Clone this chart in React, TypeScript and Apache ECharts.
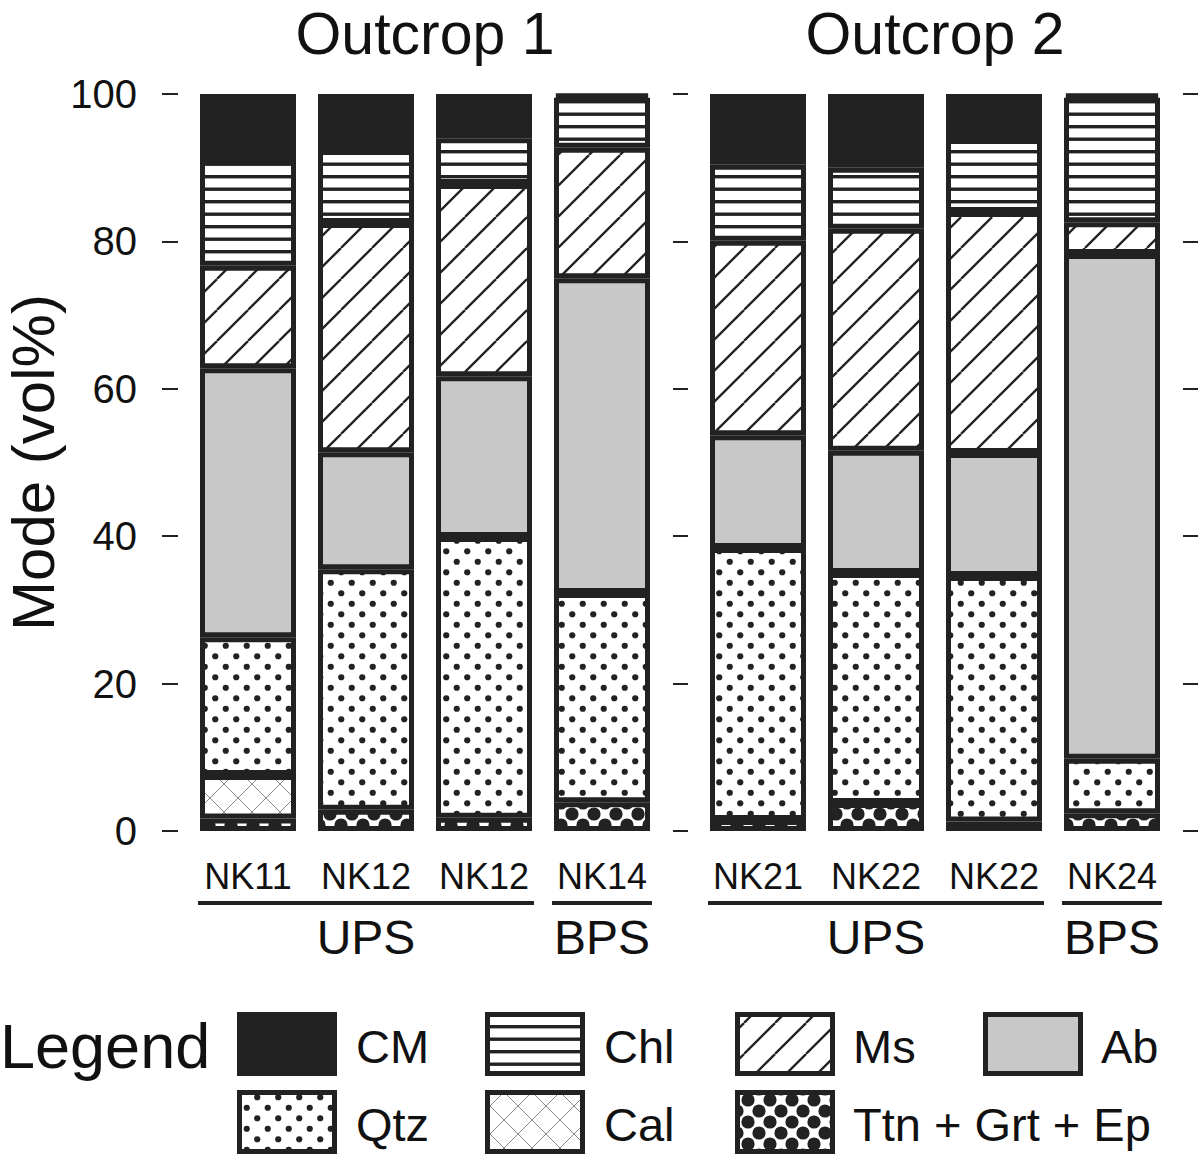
import React, { useEffect, useRef } from 'react';
import * as echarts from 'echarts';

// ---------- data ----------
const panelTitles = ['Outcrop 1', 'Outcrop 2'];
const categories1 = ['NK11', 'NK12', 'NK12', 'NK14'];
const categories2 = ['NK21', 'NK22', 'NK22', 'NK24'];
const groupNames = ['UPS', 'BPS'];
const groupStart = [0, 3];
const groupEnd = [2, 3];
const yTicks = [0, 20, 40, 60, 80, 100];

// mineral modes (vol%), bottom of stack first
const ttn1 = [1.7, 2.9, 1.8, 3.9];
const ttn2 = [1.5, 3.8, 1.3, 2.4];
const cal1 = [5.9, 0, 0, 0];
const cal2 = [0, 0, 0, 0];
const qtz1 = [18.7, 32.6, 38.1, 28.4];
const qtz2 = [36.9, 31.2, 33.3, 7.4];
const ab1 = [36.5, 15.9, 21.8, 42.7];
const ab2 = [15.3, 16.6, 16.7, 68.5];
const ms1 = [13.9, 31.1, 26.1, 17.7];
const ms2 = [26.4, 30.1, 32.7, 4.3];
const chl1 = [14.6, 9.9, 6.2, 6.8];
const chl2 = [10.3, 8.3, 9.9, 16.9];
const cm1 = [8.7, 7.6, 6.0, 0.5];
const cm2 = [9.6, 10.0, 6.1, 0.5];

const mineralNames = ['Ttn + Grt + Ep', 'Cal', 'Qtz', 'Ab', 'Ms', 'Chl', 'CM'];
const mineralKeys = ['ttn', 'cal', 'qtz', 'ab', 'ms', 'chl', 'cm'];
const outcrop1 = [ttn1, cal1, qtz1, ab1, ms1, chl1, cm1];
const outcrop2 = [ttn2, cal2, qtz2, ab2, ms2, chl2, cm2];
const legendRow1 = ['CM', 'Chl', 'Ms', 'Ab'];
const legendRow2 = ['Qtz', 'Cal', 'Ttn + Grt + Ep'];

// ---------- style ----------
const INK = '#222222';
const FONT = '"Liberation Sans", Arial, Helvetica, sans-serif';

function tile(w: number, h: number, draw: (ctx: CanvasRenderingContext2D) => void) {
  const c = document.createElement('canvas');
  c.width = w;
  c.height = h;
  const ctx = c.getContext('2d')!;
  ctx.fillStyle = '#ffffff';
  ctx.fillRect(0, 0, w, h);
  ctx.fillStyle = INK;
  ctx.strokeStyle = INK;
  draw(ctx);
  return { image: c.toDataURL(), repeat: 'repeat', imageWidth: w, imageHeight: h };
}

function buildFills(): Record<string, any> {
  const circle = (ctx: CanvasRenderingContext2D, x: number, y: number, r: number) => {
    ctx.beginPath();
    ctx.arc(x, y, r, 0, Math.PI * 2);
    ctx.fill();
  };
  return {
    cm: INK,
    ab: '#c8c8c8',
    chl: tile(10, 25, (ctx) => {
      ctx.fillRect(0, 0, 10, 3.4);
      ctx.fillRect(0, 12.5, 10, 3.4);
    }),
    ms: tile(31, 31, (ctx) => {
      ctx.lineWidth = 2.3;
      [-31, 0, 31].forEach((k) => {
        ctx.beginPath();
        ctx.moveTo(k, 31);
        ctx.lineTo(k + 31, 0);
        ctx.stroke();
      });
    }),
    qtz: tile(21, 21, (ctx) => {
      circle(ctx, 5.25, 5.25, 3.1);
      circle(ctx, 15.75, 15.75, 3.1);
    }),
    cal: tile(28, 28, (ctx) => {
      ctx.strokeStyle = '#8a8a8a';
      ctx.lineWidth = 1;
      [-28, 0, 28].forEach((k) => {
        ctx.beginPath();
        ctx.moveTo(k, 28);
        ctx.lineTo(k + 28, 0);
        ctx.stroke();
        ctx.beginPath();
        ctx.moveTo(k, 0);
        ctx.lineTo(k + 28, 28);
        ctx.stroke();
      });
    }),
    ttn: tile(22, 22, (ctx) => {
      [[0, 0], [22, 0], [0, 22], [22, 22], [11, 11]].forEach(([x, y]) => circle(ctx, x, y, 6.6));
    }),
  };
}

export default function App() {
  const ref = useRef<HTMLDivElement>(null);

  useEffect(() => {
    document.body.style.margin = '0';
    const chart = echarts.init(ref.current!, null, { renderer: 'svg' });
    const fills = buildFills();
    const grids = [
      { left: 189, top: 94, width: 472, height: 737, containLabel: false, outerBoundsMode: 'none' },
      { left: 699, top: 94, width: 472, height: 737, containLabel: false, outerBoundsMode: 'none' },
    ];
    const cats = [categories1, categories2];
    const datasets = [outcrop1, outcrop2];

    const xAxis = cats.map((c, g) => ({
      type: 'category',
      gridIndex: g,
      data: c,
      axisLine: { show: false },
      axisTick: { show: false },
      axisLabel: { fontSize: 36, fontFamily: FONT, color: '#111', margin: 27, interval: 0 },
    }));

    const yBase = {
      type: 'value',
      min: yTicks[0],
      max: yTicks[yTicks.length - 1],
      interval: yTicks[1] - yTicks[0],
      splitLine: { show: false },
      axisLine: { show: false },
    };
    const yAxis = [
      {
        ...yBase,
        gridIndex: 0,
        position: 'left',
        offset: 11,
        axisTick: { show: true, length: 16, lineStyle: { color: INK, width: 2 } },
        axisLabel: { fontSize: 40, fontFamily: FONT, color: '#111', margin: 41 },
        name: 'Mode (vol%)',
        nameLocation: 'middle',
        nameGap: 115,
        nameRotate: 90,
        nameTextStyle: { fontSize: 60, fontFamily: FONT, color: '#111' },
      },
      {
        ...yBase,
        gridIndex: 0,
        position: 'right',
        offset: 12,
        axisTick: { show: true, length: 15, lineStyle: { color: INK, width: 2 } },
        axisLabel: { show: false },
      },
      {
        ...yBase,
        gridIndex: 1,
        position: 'left',
        axisTick: { show: false },
        axisLabel: { show: false },
      },
      {
        ...yBase,
        gridIndex: 1,
        position: 'right',
        offset: 12,
        axisTick: { show: true, length: 15, lineStyle: { color: INK, width: 2 } },
        axisLabel: { show: false },
      },
    ];

    const series: any[] = [];
    datasets.forEach((ds, g) => {
      ds.forEach((vals, m) => {
        series.push({
          type: 'bar',
          name: mineralNames[m],
          xAxisIndex: g,
          yAxisIndex: g * 2,
          stack: 'outcrop' + g,
          barWidth: 96,
          data: vals.map((v) => (v > 0 ? v : null)),
          itemStyle: { color: fills[mineralKeys[m]], borderColor: INK, borderWidth: 5 },
          emphasis: { disabled: true },
          silent: true,
        });
      });
    });

    chart.setOption({
      animation: false,
      backgroundColor: '#ffffff',
      grid: grids,
      xAxis,
      yAxis,
      series,
    });

    // annotations computed from the axes
    const graphics: any[] = [];
    const text = (t: string, x: number, y: number, size: number, align = 'center', valign = 'middle') => ({
      type: 'text',
      style: {
        text: t,
        x,
        y,
        fontSize: size,
        fontFamily: FONT,
        fill: '#111',
        align,
        textAlign: align,
        verticalAlign: valign,
        textVerticalAlign: valign,
      },
    });
    grids.forEach((gr, g) => {
      graphics.push(text(panelTitles[g], gr.left + gr.width / 2, 4, 59, 'center', 'top'));
      groupNames.forEach((gn, i) => {
        const x1 = (chart.convertToPixel({ xAxisIndex: g } as any, groupStart[i]) as number) - 50;
        const x2 = (chart.convertToPixel({ xAxisIndex: g } as any, groupEnd[i]) as number) + 50;
        graphics.push({
          type: 'line',
          shape: { x1, y1: 903, x2, y2: 903 },
          style: { stroke: INK, lineWidth: 4 },
        });
        graphics.push(text(gn, (x1 + x2) / 2, 937, 48));
      });
    });

    // legend
    graphics.push(text('Legend', 0, 1046, 63, 'left'));
    const colBox = [237, 485, 735, 983];
    const colText = [356, 604, 853, 1101];
    const rows = [legendRow1, legendRow2];
    const rowTop = [1012, 1090];
    rows.forEach((row, r) => {
      row.forEach((name, c) => {
        const key = mineralKeys[mineralNames.indexOf(name)];
        graphics.push({
          type: 'rect',
          shape: { x: colBox[c] + 2.5, y: rowTop[r] + 2.5, width: 95, height: 59 },
          style: { fill: fills[key], stroke: INK, lineWidth: 5 },
        });
        graphics.push(text(name, colText[c], rowTop[r] + 34, 47, 'left'));
      });
    });

    chart.setOption({ graphic: { elements: graphics } });

    return () => chart.dispose();
  }, []);

  return <div ref={ref} style={{ width: 1200, height: 1157 }} />;
}
